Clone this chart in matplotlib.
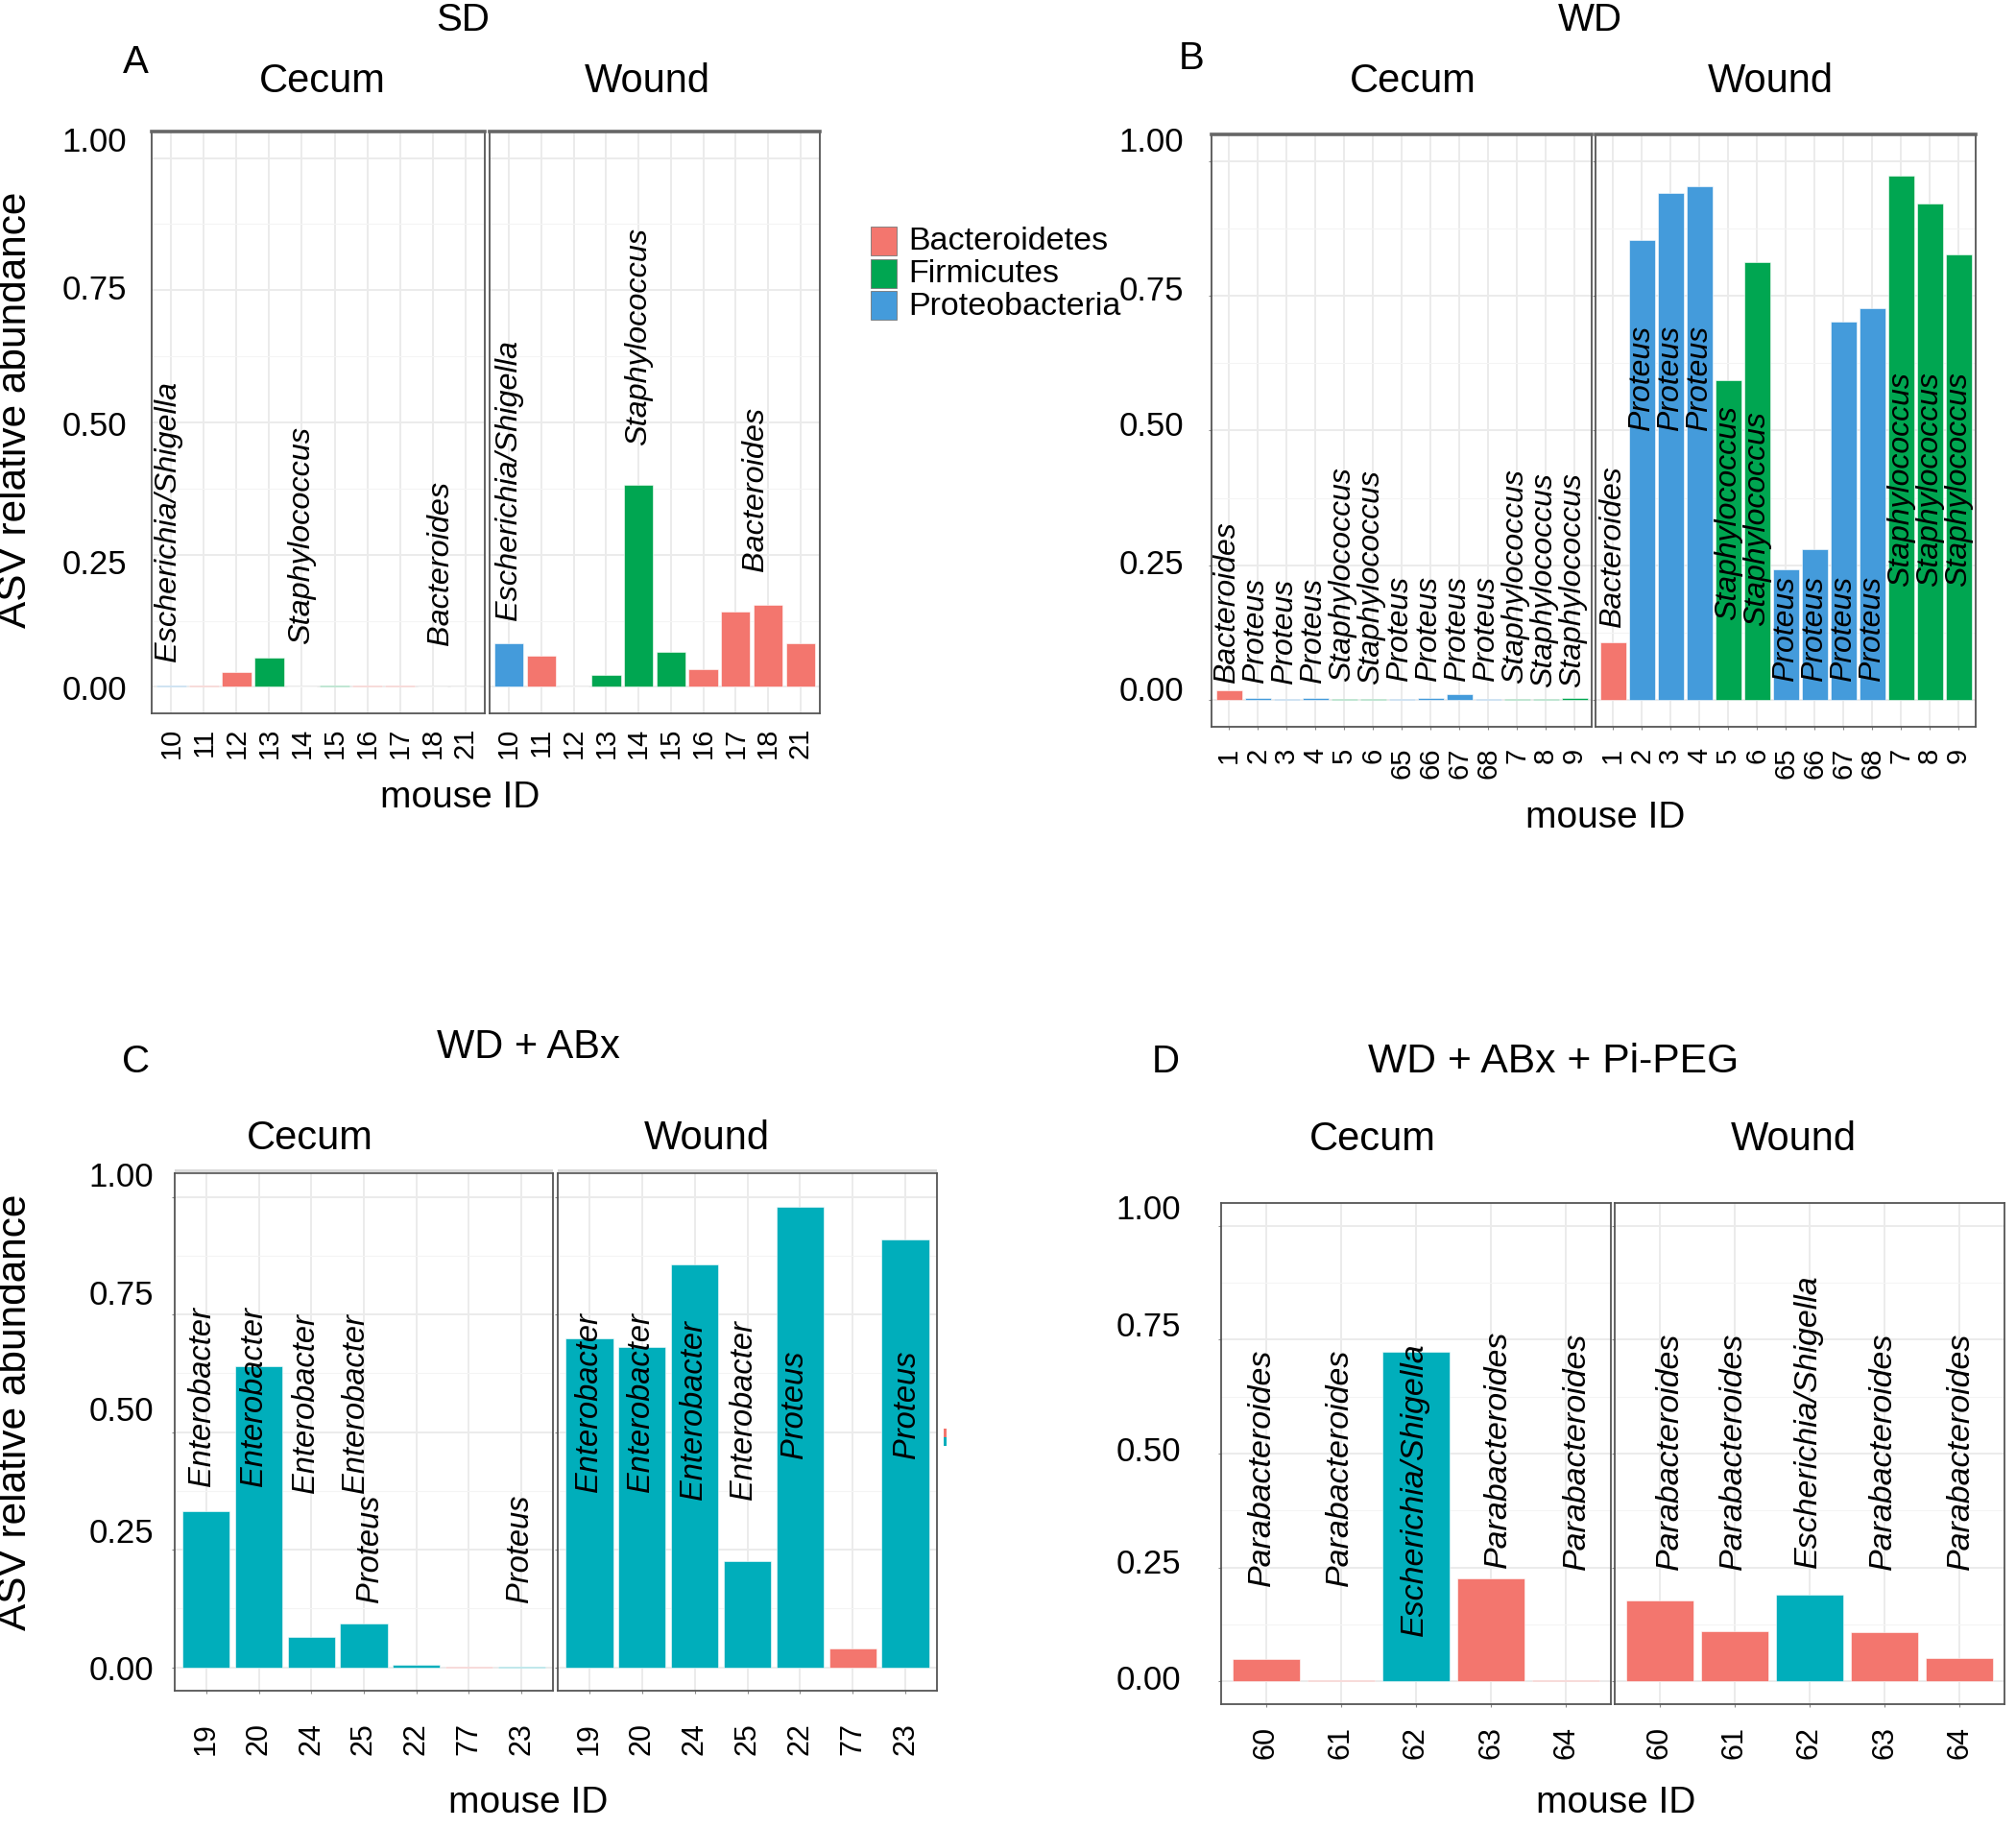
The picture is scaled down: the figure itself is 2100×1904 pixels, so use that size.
"""Relative abundance of dominant ASVs per mouse, cecum vs wound, four diet groups."""

import matplotlib

matplotlib.use("Agg")
from matplotlib import pyplot as plt
from matplotlib.patches import Rectangle
from matplotlib.transforms import ScaledTranslation

plt.rcParams["font.family"] = ["Liberation Sans", "DejaVu Sans"]

W, H = 2100, 1904

RED = "#F3766E"
GREEN = "#00A651"
BLUE = "#449BDB"
TEAL = "#00AEBB"
phylum_colors = {
    "Bacteroidetes": RED,
    "Firmicutes": GREEN,
    "Proteobacteria": BLUE,
    "Bact": RED,
    "Prot": TEAL,
}

# ---- A: SD ----
sd_ids = ["10", "11", "12", "13", "14", "15", "16", "17", "18", "21"]
sd_cecum_vals = [0.002, 0.002, 0.028, 0.055, 0.001, 0.002, 0.003, 0.002, 0.001, 0.001]
sd_wound_vals = [0.083, 0.059, 0.001, 0.022, 0.382, 0.066, 0.034, 0.142, 0.155, 0.083]
sd_phylum = ["Proteobacteria", "Bacteroidetes", "Bacteroidetes", "Firmicutes", "Firmicutes",
             "Firmicutes", "Bacteroidetes", "Bacteroidetes", "Bacteroidetes", "Bacteroidetes"]
sd_cecum_labels = [(-0.1, 0.048, "Escherichia/Shigella"), (4.0, 0.081, "Staphylococcus"),
                   (8.25, 0.078, "Bacteroides")]
sd_wound_labels = [(0.0, 0.126, "Escherichia/Shigella"), (4.0, 0.456, "Staphylococcus"),
                   (7.6, 0.218, "Bacteroides")]

# ---- B: WD ----
wd_ids = ["1", "2", "3", "4", "5", "6", "65", "66", "67", "68", "7", "8", "9"]
wd_cecum_vals = [0.018, 0.003, 0.001, 0.004, 0.001, 0.002, 0.002, 0.004, 0.011, 0.002,
                 0.002, 0.001, 0.004]
wd_wound_vals = [0.106, 0.854, 0.942, 0.953, 0.593, 0.812, 0.243, 0.279, 0.703, 0.728,
                 0.974, 0.922, 0.828]
wd_phylum = ["Bacteroidetes", "Proteobacteria", "Proteobacteria", "Proteobacteria",
             "Firmicutes", "Firmicutes", "Proteobacteria", "Proteobacteria", "Proteobacteria",
             "Proteobacteria", "Firmicutes", "Firmicutes", "Firmicutes"]
wd_genus = ["Bacteroides", "Proteus", "Proteus", "Proteus", "Staphylococcus", "Staphylococcus",
            "Proteus", "Proteus", "Proteus", "Proteus", "Staphylococcus", "Staphylococcus",
            "Staphylococcus"]
wd_cecum_label_y = [0.030, 0.030, 0.028, 0.030, 0.033, 0.028, 0.033, 0.033, 0.033, 0.033,
                    0.030, 0.023, 0.023]
wd_wound_label_y = [0.133, 0.499, 0.499, 0.499, 0.148, 0.138, 0.033, 0.033, 0.033, 0.033,
                    0.210, 0.210, 0.210]

# ---- C: WD + ABx ----
abx_ids = ["19", "20", "24", "25", "22", "77", "23"]
abx_cecum_vals = [0.332, 0.639, 0.064, 0.093, 0.005, 0.002, 0.001]
abx_wound_vals = [0.700, 0.680, 0.857, 0.225, 0.978, 0.039, 0.910]
abx_phylum = ["Prot", "Prot", "Prot", "Prot", "Prot", "Bact", "Prot"]
abx_cecum_labels = [(-0.08, 0.384, "Enterobacter"), (0.91, 0.384, "Enterobacter"),
                    (1.9, 0.371, "Enterobacter"), (2.85, 0.371, "Enterobacter"),
                    (3.12, 0.137, "Proteus"), (5.97, 0.137, "Proteus")]
abx_wound_labels = [(0.0, 0.373, "Enterobacter"), (0.98, 0.373, "Enterobacter"),
                    (1.98, 0.356, "Enterobacter"), (2.92, 0.356, "Enterobacter"),
                    (3.9, 0.444, "Proteus"), (6.02, 0.444, "Proteus")]

# ---- D: WD + ABx + Pi-PEG ----
peg_ids = ["60", "61", "62", "63", "64"]
peg_cecum_vals = [0.049, 0.002, 0.723, 0.227, 0.003]
peg_wound_vals = [0.177, 0.110, 0.190, 0.107, 0.052]
peg_phylum = ["Bact", "Bact", "Prot", "Bact", "Bact"]
peg_cecum_labels = [(-0.05, 0.21, "Parabacteroides"), (0.98, 0.21, "Parabacteroides"),
                    (1.98, 0.10, "Escherichia/Shigella"), (3.09, 0.25, "Parabacteroides"),
                    (4.14, 0.246, "Parabacteroides")]
peg_wound_labels = [(0.13, 0.246, "Parabacteroides"), (0.98, 0.246, "Parabacteroides"),
                    (1.98, 0.25, "Escherichia/Shigella"), (2.98, 0.246, "Parabacteroides"),
                    (4.02, 0.246, "Parabacteroides")]

legend_names = ["Bacteroidetes", "Firmicutes", "Proteobacteria"]

# the y tick labels in the source sit a little off their gridlines (pixels, up = +)
ylab_shift_a = [-1, -7, -1, 3, 20]
ylab_shift_b = [12, 4, 7, 8, 23]
ylab_shift_c = [-1, 20, 24, 23, 23]
ylab_shift_d = [4, 7, 5, 16, 20]


def fig_rect(x0, y0, x1, y1):
    return [x0 / W, 1 - y1 / H, (x1 - x0) / W, (y1 - y0) / H]


def fig_text(fig, x, y, s, size, **kw):
    # +5 px: va="center" uses the full text box, caps sit a bit high otherwise
    fig.text(x / W, 1 - (y + 5) / H, s, fontsize=size, ha="center", va="center", **kw)


def draw_facet(fig, rect, ids, vals, phyla, labels, label_fs, ypad, xpad, xfs, tick_len,
               strip, yshift=None):
    ax = fig.add_axes(fig_rect(*rect))
    n = len(ids)
    xs = list(range(n))
    ax.bar(xs, vals, width=0.9, color=[phylum_colors[p] for p in phyla],
           edgecolor="white", linewidth=0.4, zorder=2)
    for x, y, name in labels:
        ax.text(x, y, name, rotation=90, ha="center", va="bottom", fontsize=label_fs,
                style="italic", zorder=3)
    ax.set_xlim(-0.6, n - 0.4)
    ax.set_ylim(-0.05, 1.05)
    ax.set_xticks(xs)
    ax.set_xticklabels(ids, rotation=90, fontsize=xfs)
    ax.set_yticks([0, 0.25, 0.5, 0.75, 1.0])
    ax.set_yticks([0.125, 0.375, 0.625, 0.875], minor=True)
    if yshift is not None:
        ax.set_yticklabels(["0.00", "0.25", "0.50", "0.75", "1.00"], fontsize=25)
    else:
        ax.set_yticklabels([])
    ax.tick_params(axis="x", length=tick_len, pad=xpad - tick_len, color="#888888")
    ax.tick_params(axis="y", which="major", length=tick_len, pad=ypad - tick_len,
                   color="#888888")
    ax.tick_params(axis="y", which="minor", length=0)
    if yshift is not None:
        for lab, dy in zip(ax.get_yticklabels(), yshift):
            lab.set_transform(lab.get_transform()
                              + ScaledTranslation(0, dy / 100, fig.dpi_scale_trans))
    ax.grid(True, which="major", color="#EBEBEB", linewidth=1.4, zorder=0)
    ax.grid(True, which="minor", axis="y", color="#F4F4F4", linewidth=0.8, zorder=0)
    ax.set_axisbelow(True)
    for side in ax.spines.values():
        side.set_color("#555555")
        side.set_linewidth(1.3)
    if strip == "line":
        ax.spines["top"].set_linewidth(2.6)
        ax.spines["top"].set_color("#666666")
    elif strip == "band":
        ax.spines["top"].set_linewidth(1.2)
        ax.add_patch(Rectangle((0, 1.0), 1, 0.008, transform=ax.transAxes,
                               facecolor="#D9D9D9", edgecolor="none", clip_on=False))
    return ax


fig = plt.figure(figsize=(W / 100, H / 100), dpi=100)

# Panel A
draw_facet(fig, (158, 137, 505, 743), sd_ids, sd_cecum_vals, sd_phylum, sd_cecum_labels,
           23.3, 18.7, 10.8, 21, 0, "line", ylab_shift_a)
draw_facet(fig, (510, 137, 854, 743), sd_ids, sd_wound_vals, sd_phylum, sd_wound_labels,
           23.3, 18.7, 10.8, 21, 0, "line")
fig_text(fig, 482, 16, "SD", 29)
fig_text(fig, 141, 60, "A", 29)
fig_text(fig, 336, 80, "Cecum", 30)
fig_text(fig, 674, 80, "Wound", 30)
fig_text(fig, 16, 422, "ASV relative abundance", 30.5, rotation=90)
fig_text(fig, 479, 826, "mouse ID", 28)

# legend of panel A
for i, name in enumerate(legend_names):
    top = 236 + i * 33.5
    fig.add_artist(Rectangle((907 / W, 1 - (top + 30) / H), 27 / W, 30 / H,
                             transform=fig.transFigure, facecolor=phylum_colors[name],
                             edgecolor="#777777", linewidth=0.6))
    fig.text(946 / W, 1 - (top + 16) / H, name, fontsize=24.5, ha="left", va="center")

# Panel B
wd_cecum_labels = [(i - 0.05, y, g) for i, (y, g) in enumerate(zip(wd_cecum_label_y, wd_genus))]
wd_wound_labels = [(i, y, g) for i, (y, g) in enumerate(zip(wd_wound_label_y, wd_genus))]
draw_facet(fig, (1262, 140, 1658, 757), wd_ids, wd_cecum_vals, wd_phylum, wd_cecum_labels,
           23, 20.9, 15.8, 21, 2.5, "line", ylab_shift_b)
draw_facet(fig, (1662, 140, 2058, 757), wd_ids, wd_wound_vals, wd_phylum, wd_wound_labels,
           23, 20.9, 15.8, 21, 2.5, "line")
fig_text(fig, 1656, 16, "WD", 29)
fig_text(fig, 1241, 56, "B", 29)
fig_text(fig, 1472, 80, "Cecum", 30)
fig_text(fig, 1844, 80, "Wound", 30)
fig_text(fig, 1672, 847, "mouse ID", 28)

# Panel C
draw_facet(fig, (182, 1222, 576, 1761), abx_ids, abx_cecum_vals, abx_phylum, abx_cecum_labels,
           23.5, 15.8, 23.8, 22, 2.5, "band", ylab_shift_c)
draw_facet(fig, (581, 1222, 976, 1761), abx_ids, abx_wound_vals, abx_phylum, abx_wound_labels,
           23.5, 15.8, 23.8, 22, 2.5, "band")
fig_text(fig, 142, 1101, "C", 29)
fig_text(fig, 550, 1086, "WD + ABx", 30)
fig_text(fig, 323, 1181, "Cecum", 30)
fig_text(fig, 736, 1181, "Wound", 30)
fig_text(fig, 16, 1466, "ASV relative abundance", 30.5, rotation=90)
fig_text(fig, 550, 1873, "mouse ID", 28)
# clipped legend keys at the right edge of panel C
fig.add_artist(Rectangle((983 / W, 1 - 1497 / H), 3 / W, 9 / H, transform=fig.transFigure,
                         facecolor=RED, edgecolor="none"))
fig.add_artist(Rectangle((983 / W, 1 - 1506 / H), 3 / W, 9 / H, transform=fig.transFigure,
                         facecolor=TEAL, edgecolor="none"))

# Panel D
draw_facet(fig, (1272, 1253, 1678, 1775), peg_ids, peg_cecum_vals, peg_phylum, peg_cecum_labels,
           24.5, 30.2, 16.6, 22, 2.5, None, ylab_shift_d)
draw_facet(fig, (1682, 1253, 2088, 1775), peg_ids, peg_wound_vals, peg_phylum, peg_wound_labels,
           24.5, 30.2, 16.6, 22, 2.5, None)
fig_text(fig, 1214, 1101, "D", 29)
fig_text(fig, 1618, 1101, "WD + ABx + Pi-PEG", 30.7)
fig_text(fig, 1430, 1182, "Cecum", 30)
fig_text(fig, 1868, 1182, "Wound", 30)
fig_text(fig, 1683, 1873, "mouse ID", 28)

fig.savefig("out.png", dpi=100)
plt.close(fig)
